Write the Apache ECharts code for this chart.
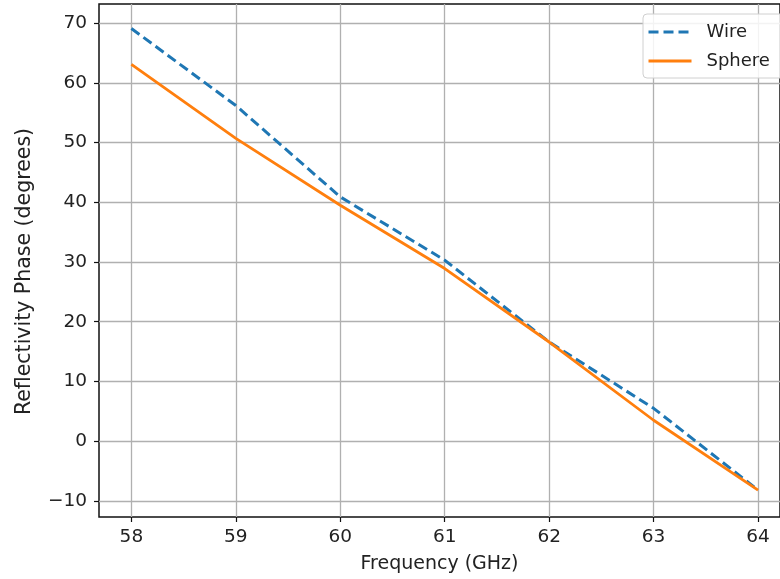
<!DOCTYPE html>
<html>
<head>
<meta charset="utf-8">
<script src="https://cdn.jsdelivr.net/npm/echarts@6/dist/echarts.min.js"></script>
<style>
  html, body { margin: 0; padding: 0; background: #fff; }
  #chart { width: 780px; height: 579px; }
</style>
</head>
<body>
<div id="chart"></div>
<script>
// Frequency sweep (GHz) and reflectivity phase (degrees) for each scatterer
const frequencies = [58, 59, 60, 61, 62, 63, 64];
const wirePhase = [69.1, 56.2, 40.9, 30.3, 16.6, 5.5, -8.2];
const spherePhase = [63.1, 50.7, 39.5, 28.9, 16.6, 3.5, -8.2];
const xTicks = [58, 59, 60, 61, 62, 63, 64];
const yTicks = [-10, 0, 10, 20, 30, 40, 50, 60, 70];

const pairs = (xs, ys) => xs.map((x, i) => [x, ys[i]]);
const FONT = 'DejaVu Sans';
const TEXT = '#222';

const chart = echarts.init(document.getElementById('chart'), null, { renderer: 'canvas' });
chart.setOption({
  animation: false,
  backgroundColor: '#fff',
  grid: {
    left: 99, top: 4, bottom: 62, right: 0,
    show: true, borderColor: '#111', borderWidth: 1.5, backgroundColor: 'transparent'
  },
  legend: {
    orient: 'vertical',
    left: 643, top: 14,
    itemWidth: 43, itemHeight: 18, itemGap: 11,
    padding: [9, 40, 8, 4],
    backgroundColor: 'rgba(255,255,255,0.85)',
    borderColor: '#d0d0d0', borderWidth: 1, borderRadius: 4,
    itemStyle: { color: 'rgba(0,0,0,0)', borderColor: 'rgba(0,0,0,0)', borderWidth: 0, opacity: 0 },
    lineStyle: { width: 3 },
    textStyle: { fontFamily: FONT, fontSize: 18, color: TEXT, padding: [0, 0, 0, 10] },
    data: ['Wire', 'Sphere']
  },
  xAxis: {
    type: 'value',
    min: 57.69, max: 64.21,
    splitNumber: 6,
    name: 'Frequency (GHz)',
    nameLocation: 'middle',
    nameGap: 38,
    nameTextStyle: { fontFamily: FONT, fontSize: 19, color: TEXT },
    axisLine: { show: false, onZero: false },
    axisTick: { show: true, length: 5, lineStyle: { color: '#111', width: 1.2 }, customValues: xTicks },
    axisLabel: { fontFamily: FONT, fontSize: 18.5, color: TEXT, margin: 11, customValues: xTicks },
    splitLine: { show: true, lineStyle: { color: '#b0b0b0', width: 1.3 } }
  },
  yAxis: {
    type: 'value',
    min: -12.7, max: 73.2,
    splitNumber: 8,
    name: 'Reflectivity Phase (degrees)',
    nameLocation: 'middle',
    nameGap: 64,
    nameRotate: 90,
    nameTextStyle: { fontFamily: FONT, fontSize: 20.5, color: TEXT, padding: [0, 22, 0, 0] },
    axisLine: { show: false, onZero: false },
    axisTick: { show: true, length: 5, lineStyle: { color: '#111', width: 1.2 }, customValues: yTicks },
    axisLabel: {
      fontFamily: FONT, fontSize: 18.5, color: TEXT, margin: 12, customValues: yTicks,
      formatter: v => (v < 0 ? '\u2212' + Math.abs(v) : String(v))
    },
    splitLine: { show: true, lineStyle: { color: '#b0b0b0', width: 1.3 } }
  },
  series: [
    {
      name: 'Wire',
      type: 'line',
      data: pairs(frequencies, wirePhase),
      symbol: 'none',
      color: '#1f77b4',
      lineStyle: { color: '#1f77b4', width: 3, type: [10, 5] },
      z: 3
    },
    {
      name: 'Sphere',
      type: 'line',
      data: pairs(frequencies, spherePhase),
      symbol: 'none',
      color: '#ff7f0e',
      lineStyle: { color: '#ff7f0e', width: 2.8 },
      z: 4
    }
  ]
});
</script>
</body>
</html>
